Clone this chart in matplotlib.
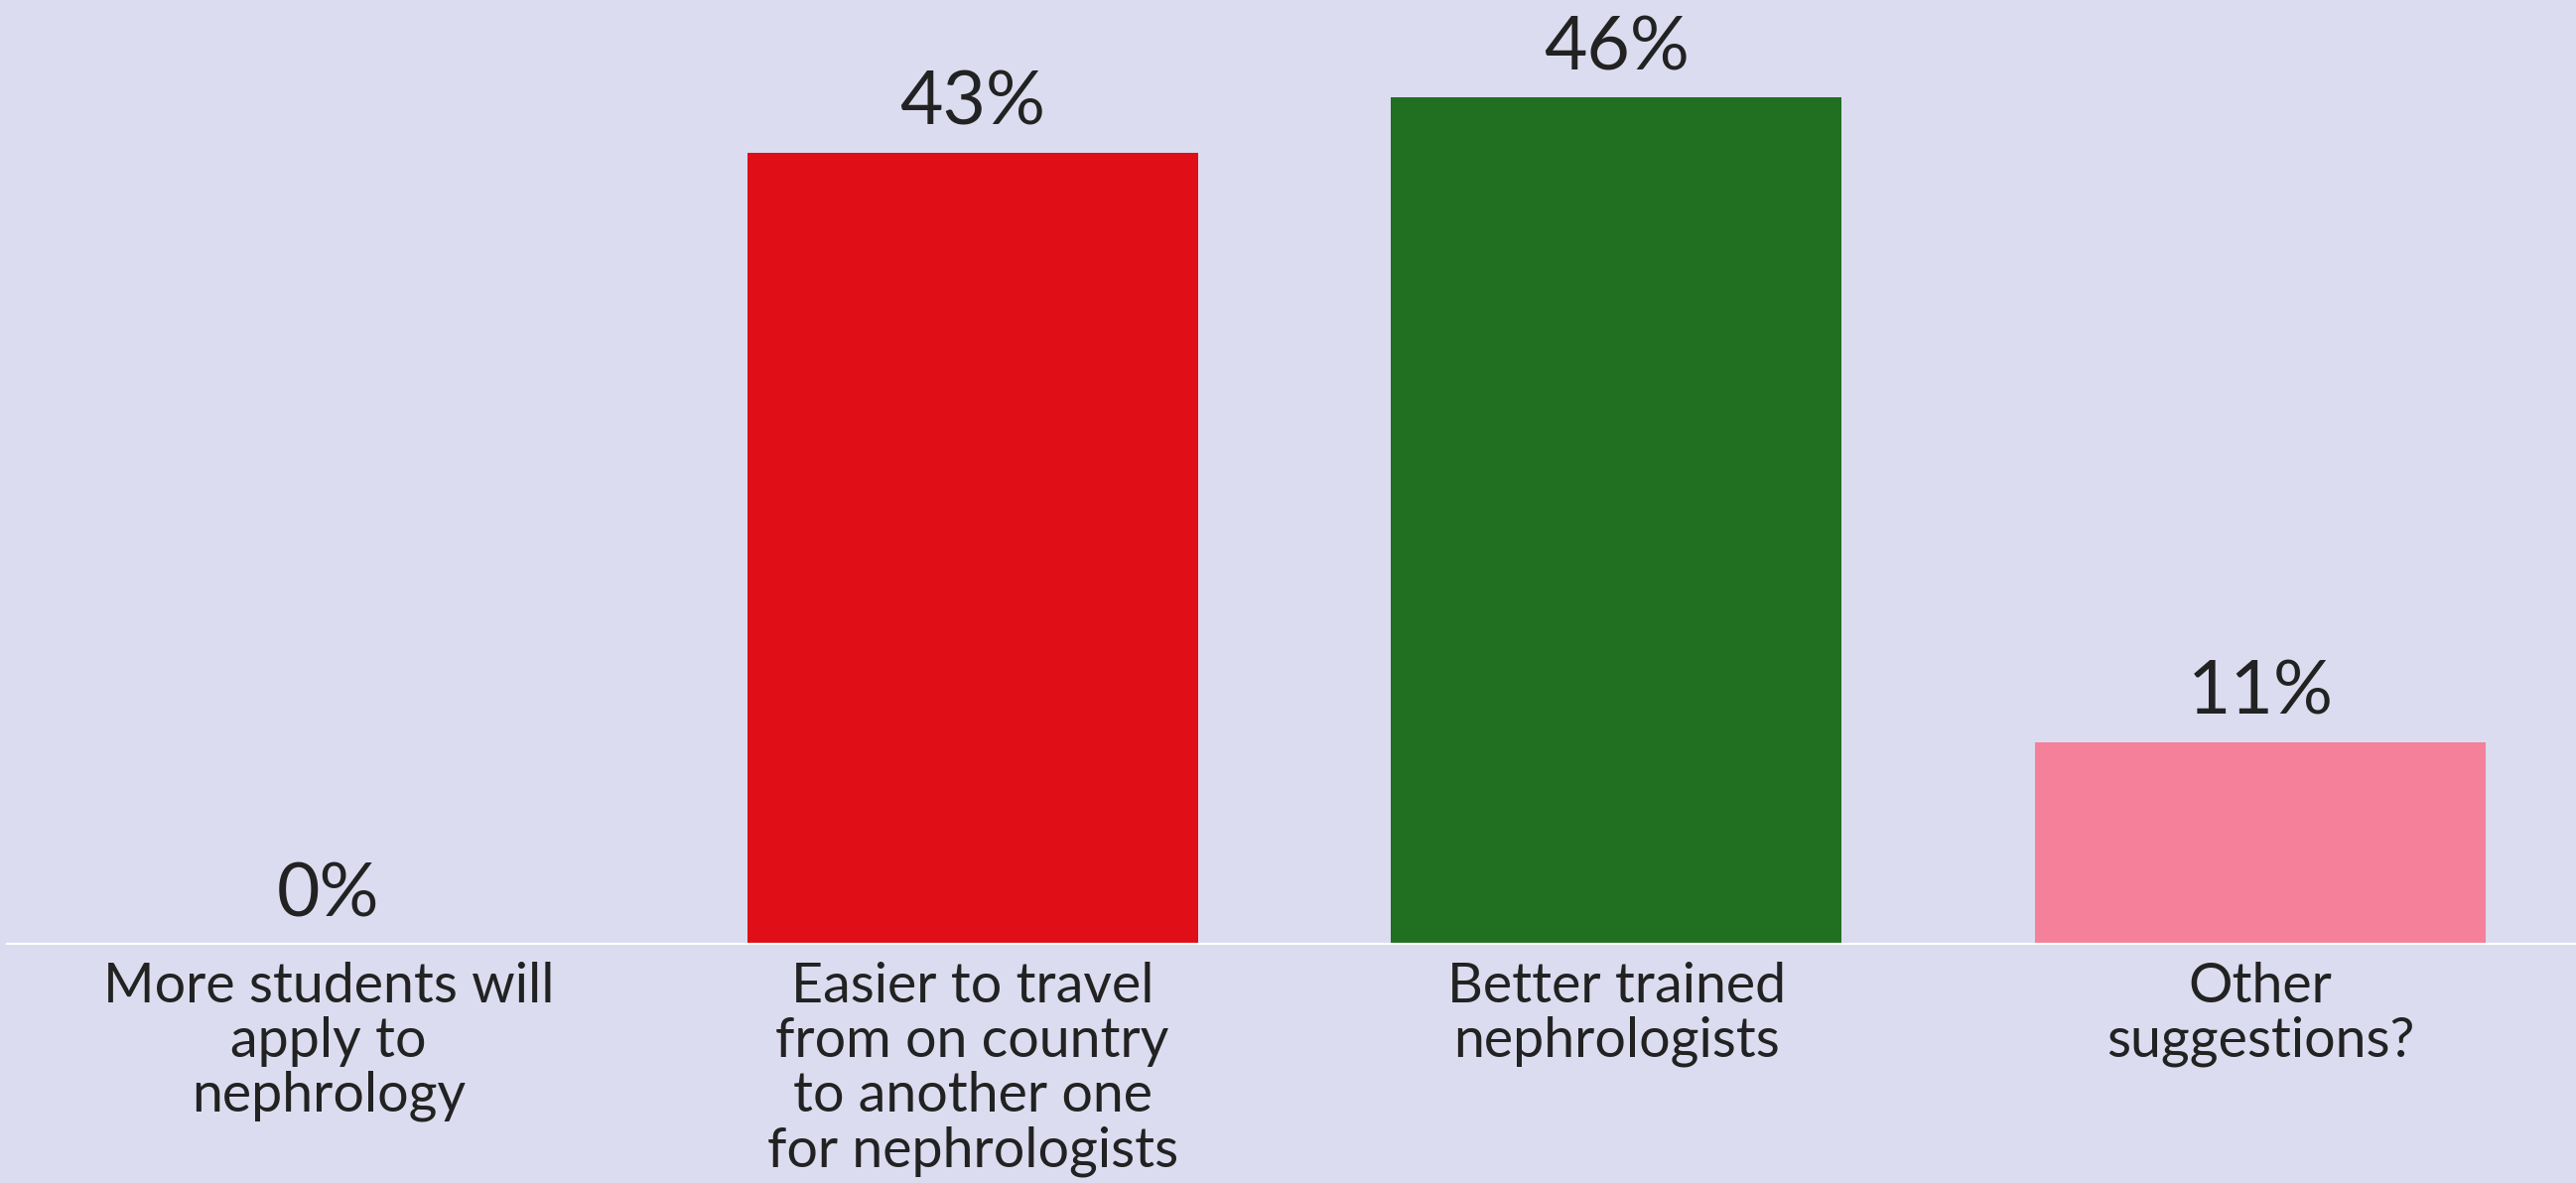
import matplotlib.pyplot as plt

# Survey answers and their share (%)
categories = [
    'More students will\napply to\nnephrology',
    'Easier to travel\nfrom on country\nto another one\nfor nephrologists',
    'Better trained\nnephrologists',
    'Other\nsuggestions?',
]
values = [0, 43, 46, 11]
value_labels = ['0%', '43%', '46%', '11%']
colors = ['#E00E17', '#E00E17', '#217021', '#F4809A']

bg = '#DCDCF0'
plt.rcParams['font.family'] = ['Lato', 'DejaVu Sans']

fig = plt.figure(figsize=(25.95, 11.92), dpi=100, facecolor=bg)
ax = fig.add_axes([0, 0.2013, 1, 0.7987])
ax.set_facecolor(bg)

x = list(range(len(categories)))
ax.bar(x, values, width=0.70, color=colors, zorder=2)

# Value labels above each bar
for xi, v, lab in zip(x, values, value_labels):
    ax.annotate(lab, (xi, v), xytext=(0, 11), textcoords='offset points',
                ha='center', va='bottom', fontsize=54, color='#222222')

ax.set_xlim(-0.51, 3.49)
ax.set_ylim(0, 51.3)

# White baseline
ax.axhline(0, xmin=0.003, xmax=1, color='white', linewidth=3, zorder=3)

ax.set_xticks(x)
ax.set_xticklabels(categories, fontsize=40, color='#222222', linespacing=1.1)
ax.tick_params(axis='x', length=0, pad=12)
ax.set_yticks([])
for s in ax.spines.values():
    s.set_visible(False)

plt.savefig('out.png', dpi=100, facecolor=bg)
